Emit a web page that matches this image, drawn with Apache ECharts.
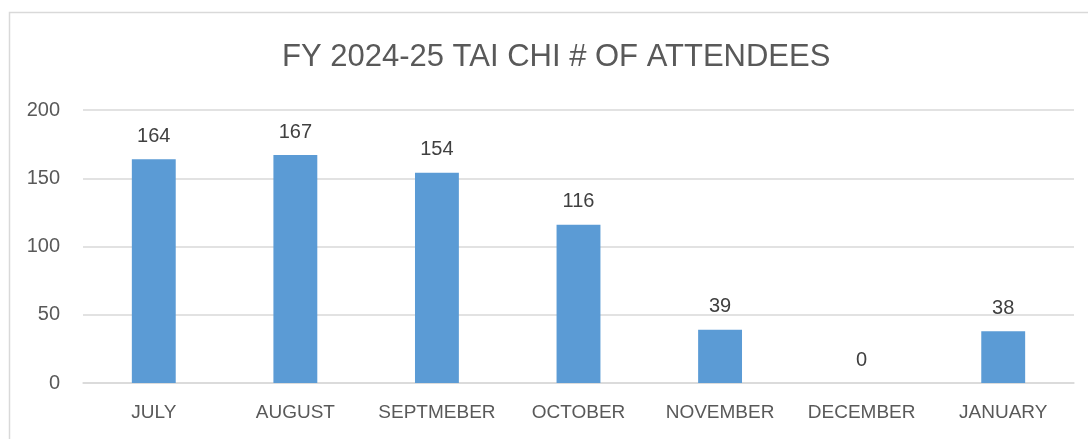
<!DOCTYPE html>
<html>
<head>
<meta charset="utf-8">
<script src="https://cdn.jsdelivr.net/npm/echarts@6/dist/echarts.min.js"></script>
<style>
html,body{margin:0;padding:0;background:#fff;}
#c{width:1088px;height:439px;}
</style>
</head>
<body>
<div id="c"></div>
<script>
const categories = ['JULY','AUGUST','SEPTMEBER','OCTOBER','NOVEMBER','DECEMBER','JANUARY'];
const attendees = [164, 167, 154, 116, 39, 0, 38];
const yTicks = [0, 50, 100, 150, 200];
const titleText = 'FY 2024-25 TAI CHI # OF ATTENDEES';

const chart = echarts.init(document.getElementById('c'), null, {renderer:'canvas'});
const font = 'Liberation Sans, Arial, sans-serif';
chart.setOption({
  animation:false,
  graphic:[{
    type:'rect', left:7, top:10, silent:true,
    shape:{x:0,y:0,width:1200,height:600},
    style:{fill:'none', stroke:'#d9d9d9', lineWidth:1.5}
  }],
  title:{
    text:titleText, left:277, top:37,
    textStyle:{fontFamily:font, fontSize:31, fontWeight:'normal', color:'#595959'}
  },
  grid:{left:83, right:14, top:110, bottom:56, containLabel:false},
  xAxis:{
    type:'category', data:categories,
    axisLine:{show:true, lineStyle:{color:'#d9d9d9', width:1.5}},
    axisTick:{show:false},
    axisLabel:{interval:0, fontFamily:font, fontSize:19, color:'#595959', margin:20}
  },
  yAxis:{
    type:'value', min:yTicks[0], max:yTicks[yTicks.length-1], interval:50,
    axisLine:{show:false}, axisTick:{show:false},
    splitLine:{lineStyle:{color:'#d9d9d9', width:1.5}},
    axisLabel:{fontFamily:font, fontSize:20, color:'#595959', margin:23}
  },
  series:[{
    type:'bar', data:attendees, barWidth:'31%',
    itemStyle:{color:'#5B9BD5'},
    label:{show:true, position:'top', distance:13, fontFamily:font, fontSize:20, color:'#404040'}
  }]
});
</script>
</body>
</html>
